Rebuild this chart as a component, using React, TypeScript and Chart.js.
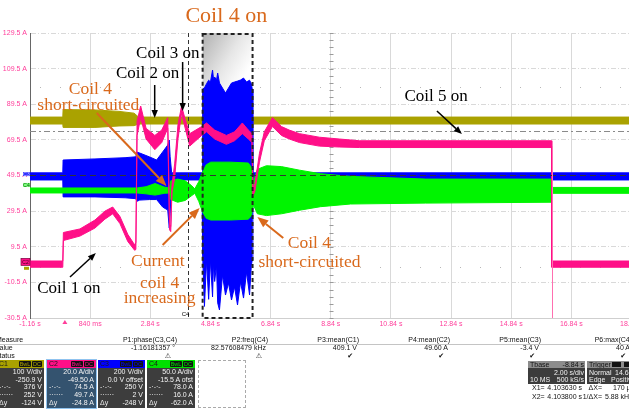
import React, { useEffect, useRef } from "react";
import { Chart, registerables } from "chart.js";

Chart.register(...registerables);

const W = 629;
const H = 412;
const CW = 645;

// ---------- axes ----------
const xTickValues = [-1.16, 0.84, 2.84, 4.84, 6.84, 8.84, 10.84, 12.84, 14.84, 16.84, 18.84];
const xTickLabels = ["-1.16 s", "840 ms", "2.84 s", "4.84 s", "6.84 s", "8.84 s", "10.84 s", "12.84 s", "14.84 s", "16.84 s", "18.84 s"];
const yTickValues = [-30.5, -10.5, 9.5, 29.5, 49.5, 69.5, 89.5, 109.5, 129.5];
const yTickLabels = ["-30.5 A", "-10.5 A", "9.5 A", "29.5 A", "49.5 A", "69.5 A", "89.5 A", "109.5 A", "129.5 A"];

// ---------- C1 (olive) envelope ----------
const c1Time = [-1.16, -0.07, -0.06, 1.0, 1.8, 2.3, 2.45, 18.84];
const c1Low = [78.4, 78.4, 76.5, 76.5, 77.3, 77.5, 78.4, 78.4];
const c1High = [82.3, 82.3, 86.5, 86.3, 85.5, 84.5, 82.3, 82.3];

// ---------- C3 (blue) envelope ----------
const c3Time = [-1.16, -0.07, -0.06, 1.0, 2.0, 2.36, 2.39, 2.49, 2.82, 3.05, 3.25, 3.42, 3.47, 3.5, 3.55, 4.56,
  4.58, 4.64, 4.71, 4.78, 4.84, 4.91, 4.94, 4.98, 5.04, 5.08, 5.14, 5.24, 5.34, 5.44, 5.54, 5.64, 5.74, 5.84, 5.94, 6.04, 6.14, 6.2, 6.23,
  6.25, 18.84];
const c3Low = [47, 47, 37.5, 37.5, 37, 36.5, 35, 35.7, 36, 36, 31.8, 30.1, 20, 28, 47, 47,
  5, -24, 2, -20, 2, -18.7, 0, -10, -0.8, -22, -26, -6.4, -17.6, -10.9, -20.4, -13.1, -23.2, -10.3, -19.3, -4.7, -17.6, -0.8, 2,
  47, 47];
const c3High = [51, 51, 58.2, 58.8, 59.5, 60, 62.7, 62.1, 59.9, 58.2, 62.7, 66.6, 69.4, 60, 51, 51,
  98, 98.6, 101, 103, 102, 108.7, 104, 104.8, 103, 107, 101.4, 98.6, 95.8, 98.6, 101.4, 102, 102.5, 103.1, 104.2, 102, 103, 101, 98,
  51, 51];

// ---------- C4 (green) envelope ----------
const c4Time = [-1.16, 2.4, 2.7, 3.0, 3.3, 3.48, 3.52, 3.75, 4.0, 4.2, 4.32, 4.45, 4.58, 4.7, 4.85, 5.5, 6.1, 6.2, 6.27, 6.4, 6.7, 7.2, 7.8, 8.5, 9.5, 12, 16.18, 16.2, 18.84];
const c4Low = [39.7, 39.7, 39.2, 38.5, 39.5, 39.7, 36, 34.5, 35.5, 38, 39.5, 35, 29, 25.5, 24.5, 24.5, 25, 27, 33, 28, 27, 28, 30, 32, 33.5, 34, 34.5, 39.5, 39.5];
const c4High = [42.5, 42.5, 43.2, 45, 43, 42.5, 46.5, 47.5, 46.5, 44, 42, 46, 51.5, 55.5, 57, 57, 56.5, 54, 46, 53, 55, 54.5, 52.5, 50.5, 49, 47.5, 47.5, 42.8, 42.8];

// ---------- C2 (pink) envelope ----------
const c2Time = [-1.16, -0.07, -0.05, 0.5, 1.0, 1.33, 1.59, 1.83, 2.09, 2.32, 2.36, 2.4, 2.52, 2.7, 2.99, 3.22, 3.42, 3.48, 3.52, 3.56,
  3.65, 3.76, 3.88, 4.0, 4.15, 4.35, 4.55, 4.71, 4.98, 5.37, 5.64, 5.9, 6.1, 6.22, 6.25, 6.32, 6.47, 6.63, 6.9, 7.2,
  7.46, 7.8, 8.46, 9.12, 9.8, 16.18, 16.19, 18.84];
const c2Low = [-2, -2, 13, 15.5, 20, 25, 28, 22.5, 12.5, 7.5, 8, 72, 82, 70, 64, 68, 76, 19, 18, 40,
  48, 70, 84.5, 76, 66, 69, 72, 74, 70, 67, 69, 73, 70, 68, 38, 41, 57, 69, 77, 72,
  70, 68, 66, 65.5, 65.2, 65.2, -2, -2];
const c2High = [1.5, 1.5, 17.5, 19.5, 24.5, 29.5, 31.8, 26.5, 16.5, 10.5, 12, 80, 88.5, 76, 72, 75, 82, 22, 21, 44,
  56, 78, 88.5, 81, 73, 75, 77, 79, 75, 72, 74, 79, 75, 73, 42, 45, 62, 74, 82, 77,
  75, 73, 71, 70, 69, 69, 1.5, 1.5];

// ---------- cursors ----------
const cursorX1 = 4.1;
const boxStart = 4.58;
const boxEnd = 6.24;
const cursorDashDot = 74.5;
const cursorDashed = 49.7;
const dottedLevels = [99.2, -1.9];
const triggerTime = 0;
const c2EdgeTime = 16.19;

// ---------- panel text ----------
const measureHeads = ["P1:phase(C3,C4)", "P2:freq(C4)", "P3:mean(C1)", "P4:mean(C2)", "P5:mean(C3)", "P6:max(C4)"];
const measureValues = ["-1.16181357 °", "82.57608479 kHz", "409.1 V", "49.60 A", "-3.4 V", "40 A"];
const measureStatus = ["⚠", "⚠", "✔", "✔", "✔", "✔"];
const c1Rows = ["100 V/div", "-250.9 V", "376 V", "252 V", "-124 V"];
const c2Rows = ["20.0 A/div", "-49.50 A", "74.5 A", "49.7 A", "-24.8 A"];
const c3Rows = ["200 V/div", "0.0 V offset", "250 V", "2 V", "-248 V"];
const c4Rows = ["50.0 A/div", "-15.5 A ofst", "78.0 A", "16.0 A", "-62.0 A"];

const OLIVE = "#aaa200";
const PINK = "#ff0f88";
const BLUE = "#0000ff";
const GREEN = "#00f400";
const ORANGE = "#d9691c";
const LABEL_PINK = "#ff3d9a";
const SERIF = "'Liberation Serif', 'Times New Roman', serif";
const SANS = "'Liberation Sans', Arial, 'DejaVu Sans', sans-serif";

const notes = [
  { text: "Coil 4 on", t: 5.37, v: 139.0, color: ORANGE, size: 22 },
  { text: "Coil 3 on", t: 3.42, v: 117.7, color: "#000", size: 17 },
  { text: "Coil 2 on", t: 2.75, v: 107.0, color: "#000", size: 17 },
  { text: "Coil 4", t: 0.85, v: 98.1, color: ORANGE, size: 17.5 },
  { text: "short-circuited", t: 0.78, v: 89.1, color: ORANGE, size: 17.5 },
  { text: "Coil 5 on", t: 12.34, v: 93.6, color: "#000", size: 17 },
  { text: "Coil 1 on", t: 0.13, v: -14.2, color: "#000", size: 17 },
  { text: "Current", t: 3.09, v: 1.5, color: ORANGE, size: 17.5 },
  { text: "coil 4", t: 3.15, v: -10.9, color: ORANGE, size: 17.5 },
  { text: "increasing", t: 3.15, v: -19.3, color: ORANGE, size: 17.5 },
  { text: "Coil 4", t: 8.13, v: 11.6, color: ORANGE, size: 17.5 },
  { text: "short-circuited", t: 8.13, v: 0.9, color: ORANGE, size: 17.5 },
];

const arrows = [
  { t1: 2.986, v1: 100.3, t2: 2.986, v2: 81.8, color: "#000", width: 1.5, head: 8 },
  { t1: 3.915, v1: 113.2, t2: 3.915, v2: 85.7, color: "#000", width: 1.5, head: 8 },
  { t1: 12.37, v1: 85.7, t2: 13.2, v2: 72.8, color: "#000", width: 1.5, head: 8 },
  { t1: 0.17, v1: -7.5, t2: 1.03, v2: 5.97, color: "#000", width: 1.5, head: 8 },
  { t1: 1.06, v1: 84.6, t2: 3.38, v2: 43.6, color: ORANGE, width: 2, head: 11 },
  { t1: 3.25, v1: 10.5, t2: 4.48, v2: 31.2, color: ORANGE, width: 2, head: 11 },
  { t1: 7.26, v1: 14.4, t2: 6.4, v2: 26.2, color: ORANGE, width: 2, head: 11 },
];

function band(label: string, time: number[], lo: number[], hi: number[], color: string, order: number) {
  const common = { borderColor: color, backgroundColor: color, borderWidth: 1, pointRadius: 0, tension: 0, order };
  return [
    { ...common, label: label + " lo", data: time.map((t, i) => ({ x: t, y: lo[i] })), fill: false },
    { ...common, label: label + " hi", data: time.map((t, i) => ({ x: t, y: hi[i] })), fill: "-1" },
  ];
}

function drawArrow(ctx: any, x1: number, y1: number, x2: number, y2: number, color: string, width: number, head: number) {
  const ang = Math.atan2(y2 - y1, x2 - x1);
  const bx = x2 - head * Math.cos(ang);
  const by = y2 - head * Math.sin(ang);
  ctx.strokeStyle = color;
  ctx.fillStyle = color;
  ctx.lineWidth = width;
  ctx.setLineDash([]);
  ctx.beginPath();
  ctx.moveTo(x1, y1);
  ctx.lineTo(bx, by);
  ctx.stroke();
  const hw = head * 0.4;
  ctx.beginPath();
  ctx.moveTo(x2, y2);
  ctx.lineTo(bx + hw * Math.sin(ang), by - hw * Math.cos(ang));
  ctx.lineTo(bx - hw * Math.sin(ang), by + hw * Math.cos(ang));
  ctx.closePath();
  ctx.fill();
}

const overlay = {
  id: "overlay",
  beforeDatasetsDraw(chart: any) {
    const { ctx, chartArea: a, scales } = chart;
    const x = scales.x, y = scales.y;
    ctx.save();
    const bx1 = x.getPixelForValue(boxStart);
    const bx2 = x.getPixelForValue(boxEnd);
    const g = ctx.createLinearGradient(bx1, a.top, bx2, a.top + 30);
    g.addColorStop(0, "#b0b0b0");
    g.addColorStop(0.6, "#e6e6e6");
    g.addColorStop(1, "#ffffff");
    ctx.fillStyle = g;
    ctx.fillRect(bx1, a.top, bx2 - bx1, a.bottom - a.top);
    // dash-dot cursor
    ctx.strokeStyle = "#8a8a8a";
    ctx.lineWidth = 1;
    ctx.setLineDash([6, 3, 2, 3]);
    let py = Math.round(y.getPixelForValue(cursorDashDot)) + 0.5;
    ctx.beginPath(); ctx.moveTo(a.left, py); ctx.lineTo(a.right, py); ctx.stroke();
    // dotted levels
    ctx.strokeStyle = "#b8b8b8";
    ctx.setLineDash([1, 19]);
    for (const lv of dottedLevels) {
      py = Math.round(y.getPixelForValue(lv)) + 0.5;
      ctx.beginPath(); ctx.moveTo(a.left + 10, py); ctx.lineTo(a.right, py); ctx.stroke();
    }
    // center axis minor ticks
    ctx.setLineDash([]);
    ctx.strokeStyle = "#9a9a9a";
    const cx = Math.round(x.getPixelForValue(8.84)) + 0.5;
    for (let v = -30.5; v <= 129.5; v += 4) {
      const p = Math.round(y.getPixelForValue(v)) + 0.5;
      ctx.beginPath(); ctx.moveTo(cx - 2, p); ctx.lineTo(cx + 2, p); ctx.stroke();
    }
    ctx.restore();
  },
  afterDatasetsDraw(chart: any) {
    const { ctx, chartArea: a, scales } = chart;
    const x = scales.x, y = scales.y;
    ctx.save();
    // dashed horizontal cursor
    ctx.strokeStyle = "#333";
    ctx.lineWidth = 1;
    ctx.setLineDash([6, 4]);
    let py = Math.round(y.getPixelForValue(cursorDashed)) + 0.5;
    ctx.beginPath(); ctx.moveTo(a.left, py); ctx.lineTo(a.right, py); ctx.stroke();
    // vertical cursor
    ctx.setLineDash([4, 3]);
    const cx = Math.round(x.getPixelForValue(cursorX1)) + 0.5;
    ctx.beginPath(); ctx.moveTo(cx, a.top); ctx.lineTo(cx, a.bottom); ctx.stroke();
    ctx.fillStyle = "#000";
    ctx.font = `6px ${SANS}`;
    ctx.textAlign = "center";
    ctx.textBaseline = "middle";
    ctx.fillText("C4", cx - 3, a.bottom - 4);
    // box outline
    const bx1 = x.getPixelForValue(boxStart);
    const bx2 = x.getPixelForValue(boxEnd);
    ctx.lineWidth = 2;
    ctx.strokeStyle = "#222";
    ctx.setLineDash([4, 3]);
    ctx.strokeRect(bx1, a.top + 1, bx2 - bx1, a.bottom - a.top - 1);
    // C2 edge line
    ctx.setLineDash([]);
    ctx.lineWidth = 1;
    ctx.strokeStyle = "#ff6fb0";
    const ex = Math.round(x.getPixelForValue(c2EdgeTime)) + 0.5;
    ctx.beginPath(); ctx.moveTo(ex, y.getPixelForValue(66)); ctx.lineTo(ex, a.bottom); ctx.stroke();
    // arrows
    for (const ar of arrows) {
      drawArrow(ctx, x.getPixelForValue(ar.t1), y.getPixelForValue(ar.v1), x.getPixelForValue(ar.t2), y.getPixelForValue(ar.v2), ar.color, ar.width, ar.head);
    }
    // notes
    ctx.textAlign = "center";
    ctx.textBaseline = "middle";
    for (const n of notes) {
      ctx.fillStyle = n.color;
      ctx.font = `${n.size}px ${SERIF}`;
      ctx.fillText(n.text, x.getPixelForValue(n.t), y.getPixelForValue(n.v));
    }
    // channel markers
    const marker = (v: number, bg: string, fg: string, label: string, w: number, h: number, x0: number) => {
      const p = y.getPixelForValue(v);
      ctx.fillStyle = bg;
      ctx.fillRect(x0, p - h / 2, w, h);
      ctx.fillStyle = fg;
      ctx.font = `5px ${SANS}`;
      ctx.textAlign = "center";
      ctx.fillText(label, x0 + w / 2, p + 0.5);
    };
    marker(-2.6, OLIVE, OLIVE, "", 5, 3, 24);
    marker(1.0, PINK, "#330018", "C2", 9, 7, 21);
    ctx.strokeStyle = "#7a0040";
    ctx.lineWidth = 0.7;
    ctx.strokeRect(21, y.getPixelForValue(1.0) - 3.5, 9, 7);
    marker(50.3, "#3030ff", "#c8c8ff", "C3", 7, 4, 23);
    marker(44.2, "#7fff7f", "#006000", "C4", 7, 4, 23);
    // trigger marker
    const tx = x.getPixelForValue(triggerTime);
    ctx.fillStyle = LABEL_PINK;
    ctx.beginPath();
    ctx.moveTo(tx, a.bottom + 2);
    ctx.lineTo(tx - 2.5, a.bottom + 6);
    ctx.lineTo(tx + 2.5, a.bottom + 6);
    ctx.closePath();
    ctx.fill();
    ctx.restore();
  },
};

function Txt({ x, y, s, align, color, size, bold }: any) {
  return (
    <div
      style={{
        position: "absolute",
        left: x,
        top: y - 4,
        fontSize: size || 7,
        lineHeight: "8px",
        whiteSpace: "nowrap",
        color: color || "#111",
        fontWeight: bold ? 700 : 400,
        transform: align === "right" ? "translateX(-100%)" : align === "center" ? "translateX(-50%)" : undefined,
      }}
    >
      {s}
    </div>
  );
}

function ChannelBox({ left, width, name, head, body, rows, selected }: any) {
  const rowY = [12, 20, 27, 35, 43];
  const prefix = ["", "", "-·-·-", "······", "Δy"];
  return (
    <div
      style={{
        position: "absolute",
        left,
        top: 360,
        width,
        height: 48,
        background: body,
        boxSizing: "border-box",
        outline: selected ? "1px solid #8fc3ef" : "none",
      }}
    >
      <div style={{ position: "absolute", left: 0, top: 0, width, height: 8, background: head }}>
        <Txt x={2} y={4} s={name} color="#1a1a1a" />
        <div style={{ position: "absolute", left: width - 25, top: 1, width: 12, height: 6, background: "#111", color: head, fontSize: 5.5, lineHeight: "6px", textAlign: "center", borderRadius: 1 }}>BwL</div>
        <div style={{ position: "absolute", left: width - 12, top: 1, width: 10, height: 6, background: "#111", color: head, fontSize: 5.5, lineHeight: "6px", textAlign: "center", borderRadius: 1 }}>DC</div>
      </div>
      {rows.map((r: string, i: number) => (
        <React.Fragment key={i}>
          {prefix[i] ? <Txt x={2} y={rowY[i]} s={prefix[i]} color="#e8e8e8" /> : null}
          <Txt x={width - 2} y={rowY[i]} s={r} align="right" color="#f4f4f4" />
        </React.Fragment>
      ))}
    </div>
  );
}

function Panel() {
  const colRight = [177, 268, 359, 450, 541, 632];
  return (
    <div style={{ position: "absolute", left: 0, top: 0, width: W, height: H, fontFamily: SANS, pointerEvents: "none" }}>
      <div style={{ position: "absolute", left: 0, top: 344, width: W, height: 1, background: "#c4c4c4" }} />
      <Txt x={-4} y={340} s="Measure" />
      <Txt x={-4} y={348} s="value" />
      <Txt x={-4} y={356} s="status" />
      {measureHeads.map((h, i) => (
        <React.Fragment key={i}>
          <Txt x={colRight[i]} y={340} s={h} align="right" />
          <Txt x={colRight[i] - 2} y={348} s={measureValues[i]} align="right" />
          <Txt x={colRight[i] - 6} y={356} s={measureStatus[i]} align="right" />
        </React.Fragment>
      ))}
      <ChannelBox left={-3} width={47} name="C1" head={OLIVE} body="#3d3d3d" rows={c1Rows} />
      <ChannelBox left={47} width={49} name="C2" head="#ff0f88" body="#34536f" rows={c2Rows} selected />
      <ChannelBox left={98} width={47} name="C3" head="#0000ff" body="#3d3d3d" rows={c3Rows} />
      <ChannelBox left={147} width={48} name="C4" head="#00e000" body="#3d3d3d" rows={c4Rows} />
      <div style={{ position: "absolute", left: 198, top: 360, width: 48, height: 48, boxSizing: "border-box", border: "1px dashed #aaa" }} />
      {/* Tbase */}
      <div style={{ position: "absolute", left: 528, top: 361, width: 57, height: 7, background: "#8c8c8c" }}>
        <Txt x={2} y={3.5} s="Tbase" color="#111" />
        <Txt x={56} y={3.5} s="-8.84 s" align="right" color="#111" />
      </div>
      <div style={{ position: "absolute", left: 528, top: 368, width: 57, height: 16, background: "#3c3c3c" }}>
        <Txt x={56} y={5} s="2.00 s/div" align="right" color="#f2f2f2" />
        <Txt x={2} y={12} s="10 MS" color="#f2f2f2" />
        <Txt x={56} y={12} s="500 kS/s" align="right" color="#f2f2f2" />
      </div>
      {/* Trigger */}
      <div style={{ position: "absolute", left: 587, top: 361, width: 60, height: 7, background: "#8c8c8c" }}>
        <Txt x={2} y={3.5} s="Trigger" color="#111" />
        <div style={{ position: "absolute", left: 25, top: 1, width: 9, height: 5, background: "#111" }} />
        <div style={{ position: "absolute", left: 37, top: 1, width: 9, height: 5, background: "#111" }} />
      </div>
      <div style={{ position: "absolute", left: 587, top: 368, width: 60, height: 16, background: "#3c3c3c" }}>
        <Txt x={2} y={5} s="Normal" color="#f2f2f2" />
        <Txt x={28} y={5} s="14.6 A" color="#f2f2f2" />
        <Txt x={2} y={12} s="Edge" color="#f2f2f2" />
        <Txt x={24} y={12} s="Positive" color="#f2f2f2" />
      </div>
      <Txt x={532} y={388} s="X1=" />
      <Txt x={582} y={388} s="4.103630 s" align="right" />
      <Txt x={532} y={397} s="X2=" />
      <Txt x={582} y={397} s="4.103800 s" align="right" />
      <Txt x={602} y={388} s="ΔX=" align="right" />
      <Txt x={613} y={388} s="170 µs" />
      <Txt x={602} y={397} s="1/ΔX=" align="right" />
      <Txt x={605} y={397} s="5.88 kHz" />
    </div>
  );
}

export default function App() {
  const ref = useRef<HTMLCanvasElement>(null);
  useEffect(() => {
    if (!ref.current) return;
    const datasets = [
      ...band("C1", c1Time, c1Low, c1High, OLIVE, 3),
      ...band("C3", c3Time, c3Low, c3High, BLUE, 2),
      ...band("C4", c4Time, c4Low, c4High, GREEN, 1),
      ...band("C2", c2Time, c2Low, c2High, PINK, 0),
    ];
    const chart = new Chart(ref.current, {
      type: "line",
      data: { datasets } as any,
      options: {
        animation: false,
        responsive: false,
        devicePixelRatio: 1,
        layout: { padding: { top: 33, bottom: 74, left: 0, right: CW - 633 } },
        plugins: { legend: { display: false }, tooltip: { enabled: false }, title: { display: false } },
        elements: { line: { borderJoinStyle: "miter" } },
        scales: {
          x: {
            type: "linear",
            min: -1.16,
            max: 18.84,
            afterBuildTicks: (s: any) => { s.ticks = xTickValues.map((v) => ({ value: v })); },
            afterFit: (s: any) => { s.height = 20; },
            ticks: {
              callback: (_v: any, i: number) => xTickLabels[i],
              color: LABEL_PINK,
              font: { size: 7, family: SANS },
              padding: 2,
              maxRotation: 0,
              autoSkip: false,
            },
            grid: { color: "#d9d9d9", drawTicks: false },
            border: { display: true, color: "#cfcfcf" },
          },
          y: {
            type: "linear",
            min: -30.5,
            max: 129.5,
            afterBuildTicks: (s: any) => { s.ticks = yTickValues.map((v) => ({ value: v })); },
            afterFit: (s: any) => { s.width = 30; },
            ticks: {
              callback: (_v: any, i: number) => yTickLabels[i],
              color: LABEL_PINK,
              font: { size: 7, family: SANS },
              padding: 3,
              autoSkip: false,
            },
            grid: { color: "#d9d9d9", drawTicks: false },
            border: { display: true, color: "#666", dash: [5, 2, 1, 2] },
          },
        },
      } as any,
      plugins: [overlay as any],
    });
    return () => chart.destroy();
  }, []);
  return (
    <div style={{ position: "absolute", left: 0, top: 0, width: W, height: H, overflow: "hidden", background: "#fff" }}>
      <canvas ref={ref} width={CW} height={H} style={{ display: "block", width: CW, height: H }} />
      <Panel />
    </div>
  );
}
